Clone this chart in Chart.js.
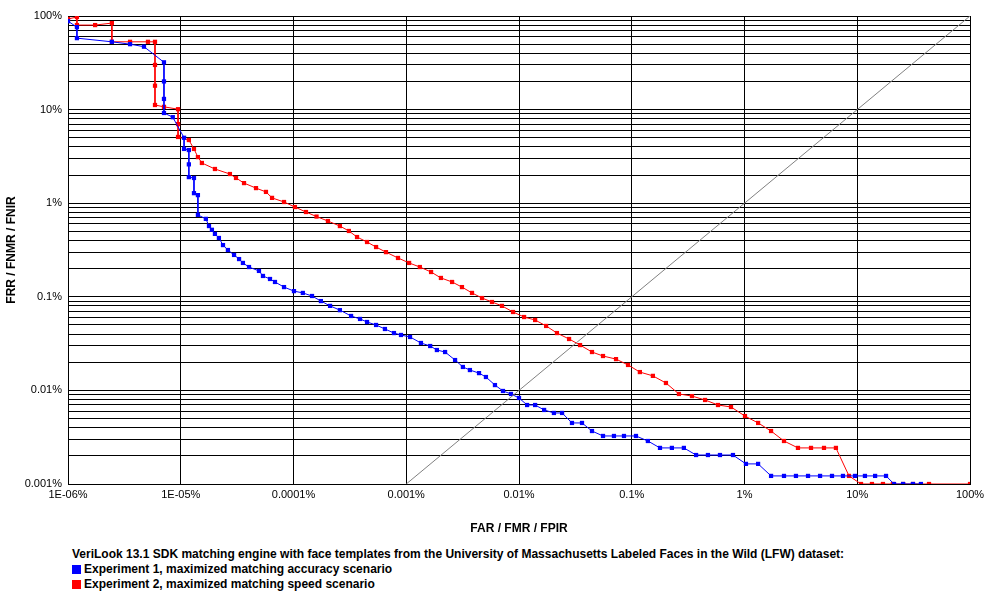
<!DOCTYPE html>
<html><head><meta charset="utf-8">
<script src="https://cdn.jsdelivr.net/npm/chart.js@4/dist/chart.umd.min.js"></script>
<style>
body{margin:0;background:#fff;font-family:"Liberation Sans",Arial,sans-serif;}
#wrap{position:absolute;left:0;top:0;width:1005px;height:540px;}
#cap{position:absolute;left:72px;top:547px;font-weight:bold;font-size:12px;line-height:15px;color:#000;}
.sq{display:inline-block;width:9px;height:9px;margin-right:3px;vertical-align:-1px;}
</style></head><body>
<div id="wrap"><canvas id="c"></canvas></div>
<div id="cap">VeriLook 13.1 SDK matching engine with face templates from the University of Massachusetts Labeled Faces in the Wild (LFW) dataset:<br>
<span class="sq" style="background:#0000ff"></span>Experiment 1, maximized matching accuracy scenario<br>
<span class="sq" style="background:#ff0000"></span>Experiment 2, maximized matching speed scenario</div>
<script>
const xTickLabels=["1E-06%","1E-05%","0.0001%","0.001%","0.01%","0.1%","1%","10%","100%"];
const yTickLabels=["0.001%","0.01%","0.1%","1%","10%","100%"];
const exp1FAR=[1e-6,1.2e-6,1.2e-6,2.45e-6,3.55e-6,4.72e-6,7.1e-6,7.1e-6,7.1e-6,7.1e-6,8.5e-6,1.07e-5,1.07e-5,1.18e-5,1.18e-5,1.18e-5,1.31e-5,1.31e-5,1.42e-5,1.42e-5,1.67e-5,1.78e-5,1.89e-5,2.01e-5,2.18e-5,2.37e-5,2.62e-5,2.97e-5,3.29e-5,3.56e-5,4.03e-5,4.94e-5,5.36e-5,6.19e-5,6.85e-5,8.24e-5,1.01e-4,1.21e-4,1.46e-4,1.75e-4,2.11e-4,2.58e-4,3.24e-4,3.89e-4,4.49e-4,5.4e-4,6.47e-4,7.78e-4,8.98e-4,1.08e-3,1.35e-3,1.63e-3,1.87e-3,2.21e-3,2.71e-3,3.18e-3,3.67e-3,4.42e-3,5.09e-3,6.12e-3,7.21e-3,8.49e-3,0.01,0.0118,0.0139,0.0167,0.0204,0.0241,0.0295,0.0362,0.0444,0.0556,0.0695,0.0853,0.109,0.139,0.178,0.227,0.29,0.372,0.474,0.606,0.79,1.03,1.32,1.72,2.24,2.86,3.66,4.68,5.97,7.47,9.54,11.7,14.4,18.0,21.2,25.5,31.2,36.7];
const exp1FRR=[88,76,58,53,50,47,32,20,13,9.2,8.3,5.0,3.8,3.7,2.6,1.9,1.86,1.28,1.22,0.75,0.68,0.57,0.52,0.47,0.425,0.357,0.316,0.28,0.253,0.23,0.208,0.189,0.167,0.155,0.144,0.127,0.115,0.11,0.102,0.09,0.08,0.072,0.0624,0.058,0.0538,0.05,0.0453,0.041,0.0391,0.0372,0.0321,0.0298,0.027,0.0257,0.0211,0.0178,0.0165,0.0153,0.0139,0.0114,0.00986,0.00916,0.0083,0.00698,0.00698,0.00618,0.00574,0.00574,0.00449,0.00449,0.00368,0.00326,0.00326,0.00326,0.00326,0.00288,0.00243,0.00243,0.00243,0.00204,0.00204,0.00204,0.00204,0.00164,0.00164,0.00122,0.00122,0.00122,0.00122,0.00122,0.00122,0.00122,0.00122,0.00122,0.00122,0.00122,0.001,0.001,0.001,0.001];
const exp2FAR=[1e-6,1.2e-6,1.2e-6,1.74e-6,2.45e-6,2.45e-6,3.55e-6,5.12e-6,5.91e-6,5.91e-6,5.91e-6,5.91e-6,7.1e-6,9.46e-6,9.46e-6,9.46e-6,1.18e-5,1.31e-5,1.42e-5,1.54e-5,2.01e-5,2.73e-5,3.09e-5,3.64e-5,4.65e-5,5.7e-5,6.45e-5,8.24e-5,1.03e-4,1.29e-4,1.6e-4,2.02e-4,2.58e-4,3.1e-4,3.66e-4,4.49e-4,5.4e-4,6.61e-4,8.45e-4,1.06e-3,1.32e-3,1.66e-3,2.03e-3,2.55e-3,3.12e-3,3.83e-3,4.7e-3,5.76e-3,7.06e-3,8.85e-3,0.0111,0.0139,0.0174,0.0217,0.0278,0.0348,0.0444,0.0556,0.0725,0.0927,0.118,0.154,0.201,0.262,0.342,0.447,0.582,0.759,1.01,1.32,1.72,2.24,2.98,3.89,5.07,6.47,8.45,10.8,13.5,16.9,20.7,25.5,31.2,43.3,100];
const exp2FRR=[93,97.5,80,80,84,53,53,53,53,30,18,11.2,10.7,10.1,7,5.1,4.73,3.8,3.11,2.69,2.32,2.05,1.86,1.64,1.45,1.32,1.14,1.03,0.91,0.805,0.72,0.645,0.57,0.505,0.435,0.385,0.34,0.30,0.26,0.23,0.208,0.184,0.159,0.144,0.127,0.11,0.097,0.088,0.08,0.0688,0.0608,0.0565,0.0488,0.041,0.0354,0.0305,0.0257,0.0233,0.0216,0.0187,0.0157,0.0143,0.012,0.00916,0.0087,0.0079,0.00698,0.00665,0.00532,0.00449,0.00368,0.00288,0.00243,0.00243,0.00243,0.00243,0.00122,0.001,0.001,0.001,0.001,0.001,0.001,0.001,0.001];
const diagonal=[0.001,100];

const pts=(xs,ys)=>xs.map((x,i)=>({x:x,y:ys[i]}));
const font={family:"'Liberation Sans', Arial, sans-serif",size:11};
new Chart(document.getElementById('c'),{
 type:'line',
 data:{datasets:[
  {data:pts(diagonal,diagonal),borderColor:'#808080',borderWidth:1,pointRadius:0,fill:false},
  {data:pts(exp1FAR,exp1FRR),borderColor:'#0000ff',backgroundColor:'#0000ff',borderWidth:1,pointStyle:'rect',pointRadius:3,pointBorderWidth:0,fill:false},
  {data:pts(exp2FAR,exp2FRR),borderColor:'#ff0000',backgroundColor:'#ff0000',borderWidth:1,pointStyle:'rect',pointRadius:3,pointBorderWidth:0,fill:false}
 ]},
 options:{responsive:true,maintainAspectRatio:false,animation:false,
  layout:{padding:{top:16,right:35,left:0,bottom:0}},
  plugins:{legend:{display:false},tooltip:{enabled:false}},
  scales:{
   x:{type:'logarithmic',min:1e-6,max:100,
     afterBuildTicks:s=>{s.ticks=xTickLabels.map((l,i)=>({value:Math.pow(10,i-6)}));},
     afterFit:s=>{s.height=56;},
     ticks:{color:'#000',font:font,maxRotation:0,autoSkip:false,padding:4,callback:(v,i)=>xTickLabels[i]},
     grid:{color:'#000',lineWidth:1,drawTicks:false},border:{color:'#000'},
     title:{display:true,text:'FAR / FMR / FPIR',color:'#000',font:{family:font.family,size:12,weight:'bold'},padding:{top:8}}},
   y:{type:'logarithmic',min:0.001,max:100,
     afterBuildTicks:s=>{const t=[];for(let e=-3;e<=2;e++){for(let m=1;m<=9;m++){const v=m*Math.pow(10,e);if(v>100.0001)break;t.push({value:v});}}s.ticks=t;},
     afterFit:s=>{s.width=68;},
     ticks:{color:'#000',font:font,autoSkip:false,padding:6,callback:(v)=>{const e=Math.log10(v);if(Math.abs(e-Math.round(e))<1e-6){return yTickLabels[Math.round(e)+3];}return '';}},
     grid:{color:'#000',lineWidth:1,drawTicks:false},border:{color:'#000'},
     title:{display:true,text:'FRR / FNMR / FNIR',color:'#000',font:{family:font.family,size:12,weight:'bold'},padding:{bottom:0}}}
  }}
});
</script></body></html>
